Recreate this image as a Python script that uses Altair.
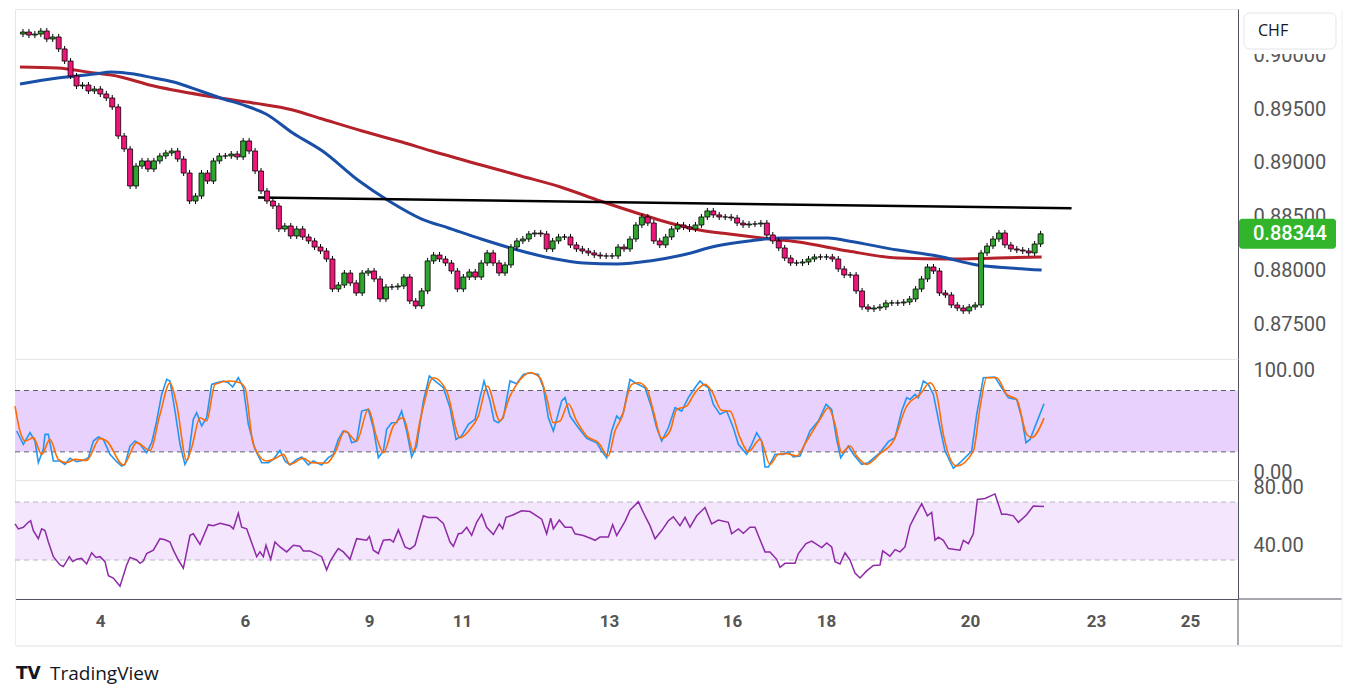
import altair as alt
import pandas as pd
import numpy as np

# ---------------- data ----------------
closes = [0.90213, 0.90185, 0.90194, 0.90222, 0.90148, 0.90167, 0.90056, 0.89944, 0.89806, 0.89713,
          0.89722, 0.89667, 0.89685, 0.89639, 0.89602, 0.89519, 0.89250, 0.89130, 0.88787, 0.88972,
          0.89019, 0.88944, 0.89019, 0.89065, 0.89093, 0.89111, 0.89037, 0.88907, 0.88648, 0.88694,
          0.88907, 0.88833, 0.89019, 0.89065, 0.89065, 0.89083, 0.89056, 0.89204, 0.89111, 0.88926,
          0.88741, 0.88648, 0.88602, 0.88389, 0.88417, 0.88324, 0.88389, 0.88315, 0.88278, 0.88222,
          0.88185, 0.88111, 0.87833, 0.87870, 0.87981, 0.87889, 0.87796, 0.87981, 0.88000, 0.87926,
          0.87741, 0.87852, 0.87852, 0.87861, 0.87944, 0.87722, 0.87676, 0.87815, 0.88093, 0.88148,
          0.88111, 0.88074, 0.88000, 0.87833, 0.87944, 0.87991, 0.87944, 0.88074, 0.88167, 0.88074,
          0.87981, 0.88056, 0.88222, 0.88278, 0.88296, 0.88343, 0.88352, 0.88343, 0.88204, 0.88278,
          0.88315, 0.88315, 0.88241, 0.88204, 0.88185, 0.88167, 0.88148, 0.88139, 0.88139, 0.88139,
          0.88222, 0.88204, 0.88296, 0.88426, 0.88500, 0.88444, 0.88278, 0.88241, 0.88315, 0.88389,
          0.88426, 0.88407, 0.88389, 0.88426, 0.88500, 0.88556, 0.88519, 0.88500, 0.88500, 0.88491,
          0.88444, 0.88426, 0.88435, 0.88435, 0.88444, 0.88333, 0.88278, 0.88213, 0.88120, 0.88074,
          0.88074, 0.88083, 0.88111, 0.88130, 0.88130, 0.88130, 0.88111, 0.88019, 0.87963, 0.87963,
          0.87815, 0.87667, 0.87648, 0.87657, 0.87667, 0.87704, 0.87704, 0.87704, 0.87713, 0.87741,
          0.87833, 0.87926, 0.88037, 0.88000, 0.87796, 0.87778, 0.87685, 0.87657, 0.87630, 0.87667,
          0.87685, 0.88167, 0.88231, 0.88296, 0.88352, 0.88241, 0.88204, 0.88194, 0.88185, 0.88167,
          0.88250, 0.88344]
first_open = 0.90194
wick = 0.00028
last_price = 0.88344

red_pos = [-0.5, 5.83, 12, 14.83, 22, 32, 38.67, 45.33, 50.33, 57, 63.67, 68.67, 77, 83.67, 90.33,
           97, 103.67, 108.67, 113.67, 118.67, 124.17, 130.33, 138.67, 147, 155.33, 163.67, 171.17]
red_val = [0.89889, 0.89880, 0.89833, 0.89815, 0.89713, 0.89611, 0.89556, 0.89491, 0.89407, 0.89296,
           0.89194, 0.89111, 0.88981, 0.88880, 0.88778, 0.88648, 0.88528, 0.88444, 0.88380, 0.88343,
           0.88306, 0.88269, 0.88185, 0.88120, 0.88111, 0.88120, 0.88130]

blue_pos = [-0.5, 5.83, 12, 14.83, 18.67, 22, 25.33, 29.83, 33.17, 37.5, 40.83, 45.33, 50.33, 56.5,
            61.5, 67, 71.5, 77, 82.5, 88.67, 94.17, 99.83, 105.33, 110.83, 116.5, 122, 127.5, 135.33,
            138.67, 147, 153.67, 160.33, 165.83, 171.17]
blue_val = [0.89731, 0.89787, 0.89824, 0.89843, 0.89824, 0.89787, 0.89750, 0.89667, 0.89602, 0.89528,
            0.89454, 0.89278, 0.89111, 0.88833, 0.88648, 0.88481, 0.88398, 0.88296, 0.88204, 0.88120,
            0.88074, 0.88065, 0.88093, 0.88148, 0.88231, 0.88278, 0.88306, 0.88306, 0.88278, 0.88194,
            0.88139, 0.88056, 0.88028, 0.88009]

trend_pos = [39.5, 176.2]
trend_val = [0.88681, 0.88581]

k_pos = [-0.22, 0.89, 2.0, 2.83, 3.39, 4.22, 4.5, 5.06, 5.89, 7.0,
         7.83, 8.67, 9.78, 10.89, 11.72, 12.56, 13.39, 14.22, 15.33, 16.44,
         17.28, 17.83, 18.67, 19.5, 20.33, 21.44, 22.28, 23.11, 23.94, 24.78,
         25.33, 26.17, 27.0, 27.83, 28.39, 29.22, 29.78, 30.61, 31.44, 32.28,
         33.11, 34.22, 35.06, 35.78, 36.72, 37.56, 38.39, 39.5, 40.61, 41.72,
         42.56, 43.67, 44.5, 45.33, 46.44, 47.28, 48.39, 49.22, 50.61, 51.72,
         52.56, 53.39, 54.22, 55.06, 55.61, 56.44, 57.28, 58.39, 59.22, 60.06,
         60.89, 61.44, 62.28, 63.11, 63.94, 64.78, 65.61, 66.44, 67.56, 68.56,
         69.5, 70.89, 72.0, 73.0, 73.94, 75.06, 76.17, 77.0, 77.67, 78.67,
         79.33, 80.06, 80.89, 82.0, 83.11, 84.22, 85.33, 86.72, 87.56, 88.39,
         89.22, 89.78, 90.61, 91.17, 92.0, 93.39, 94.78, 96.44, 97.28, 98.11,
         98.94, 99.78, 100.33, 100.89, 102.0, 102.83, 104.5, 105.61, 106.44, 107.28,
         108.39, 109.5, 110.61, 111.72, 112.83, 113.67, 114.22, 115.06, 115.89, 117.0,
         118.11, 119.22, 120.06, 121.44, 122.28, 123.11, 123.94, 124.5, 125.06, 126.17,
         127.56, 128.39, 129.22, 130.33, 132.0, 133.39, 134.67, 135.61, 136.44, 137.11,
         138.39, 139.22, 140.61, 141.72, 143.67, 145.06, 146.17, 147.28, 148.11, 148.67,
         149.5, 150.06, 150.89, 151.72, 152.56, 153.67, 154.5, 155.89, 157.0, 158.94,
         159.78, 160.89, 162.83, 163.94, 165.06, 166.44, 167.28, 168.0, 168.67, 171.0]
k_val = [40.4, 27.4, 38.8, 30.6, 9.4, 22.5, 37.1, 37.1, 11.1, 11.1,
         7.8, 13.7, 10.4, 11.7, 14.3, 30.6, 34.5, 32.2, 17.6, 10.4,
         6.2, 7.8, 25.7, 30.6, 27.4, 19.2, 29.0, 50.2, 76.2, 90.9,
         89.3, 59.9, 27.4, 7.8, 14.3, 51.8, 58.3, 45.3, 53.4, 86.0,
         87.6, 89.3, 87.6, 83.4, 92.5, 82.7, 46.9, 22.5, 9.4, 9.4,
         12.7, 21.5, 11.1, 7.2, 12.7, 15.0, 7.2, 11.1, 7.2, 14.3,
         17.6, 32.2, 40.4, 38.8, 29.0, 30.6, 59.9, 61.6, 43.6, 14.3,
         20.8, 42.0, 48.5, 48.5, 59.9, 40.4, 15.0, 25.7, 69.7, 94.1,
         89.3, 82.7, 63.2, 32.2, 35.5, 46.9, 51.8, 73.0, 89.3, 69.7,
         50.8, 48.5, 53.4, 89.3, 86.6, 95.8, 97.4, 95.8, 82.7, 53.4,
         40.4, 51.8, 69.7, 73.0, 55.0, 43.6, 33.2, 29.0, 20.8, 14.3,
         40.4, 55.0, 51.8, 58.3, 90.9, 87.6, 82.7, 63.2, 43.6, 30.6,
         43.6, 63.2, 59.9, 73.0, 82.7, 89.3, 86.0, 82.7, 66.4, 56.7,
         59.9, 43.6, 27.4, 17.6, 27.4, 38.8, 30.6, 5.2, 5.2, 17.6,
         17.6, 20.2, 15.0, 16.0, 40.4, 50.2, 66.4, 61.6, 32.2, 14.3,
         25.7, 17.6, 7.8, 9.4, 19.2, 30.0, 33.9, 59.9, 73.0, 71.3,
         76.2, 73.0, 89.3, 86.0, 76.2, 43.6, 20.8, 3.9, 9.4, 20.8,
         56.7, 92.5, 93.2, 82.7, 73.0, 71.3, 53.4, 29.0, 32.2, 67.0]

d_pos = [-0.5, 0.33, 1.17, 2.56, 3.94, 5.33, 6.72, 8.11, 9.5, 11.44,
         13.67, 14.78, 17.56, 19.78, 22.0, 23.67, 25.33, 26.44, 28.11, 28.94,
         30.33, 31.44, 32.83, 35.33, 37.0, 37.83, 39.22, 41.44, 43.11, 44.22,
         45.33, 47.56, 48.94, 51.44, 52.83, 54.5, 56.44, 58.39, 59.78, 60.89,
         62.56, 64.22, 65.89, 67.0, 69.22, 71.44, 73.67, 75.33, 76.72, 78.22,
         80.33, 82.0, 83.11, 85.33, 87.0, 88.11, 89.22, 90.33, 91.72, 93.11,
         94.78, 96.72, 98.39, 99.5, 100.61, 102.28, 103.39, 104.78, 105.89, 107.28,
         108.67, 109.78, 111.44, 112.83, 114.5, 115.61, 117.28, 118.67, 120.33, 121.72,
         123.67, 125.33, 126.72, 128.11, 129.78, 131.44, 133.67, 135.06, 136.17, 137.28,
         138.67, 139.78, 141.44, 143.67, 145.89, 148.11, 150.33, 152.0, 153.11, 154.22,
         156.44, 159.22, 160.33, 161.44, 163.11, 164.78, 166.44, 168.11, 168.94, 171.0]
d_val = [64.8, 40.4, 30.6, 33.9, 17.6, 32.2, 12.7, 9.4, 12.7, 11.7,
         33.2, 30.6, 7.2, 29.0, 21.5, 56.7, 87.6, 66.4, 11.7, 24.1,
         53.4, 50.2, 86.0, 89.3, 87.6, 82.7, 27.4, 11.1, 14.3, 17.6,
         7.8, 13.7, 9.4, 9.1, 19.2, 40.4, 30.6, 61.6, 33.9, 19.2,
         45.3, 53.4, 20.8, 50.2, 92.5, 79.5, 33.9, 42.0, 55.0, 84.4,
         50.2, 74.6, 86.0, 97.4, 92.5, 73.0, 48.5, 50.2, 67.1, 50.2,
         35.5, 29.0, 16.0, 40.4, 53.4, 86.0, 87.6, 82.1, 59.9, 33.2,
         40.4, 61.6, 64.8, 77.9, 86.0, 79.5, 60.6, 59.9, 33.9, 20.2,
         32.2, 7.8, 17.6, 18.2, 16.0, 30.6, 51.8, 63.2, 46.9, 19.2,
         25.7, 16.0, 7.8, 18.2, 30.6, 64.8, 76.2, 87.6, 76.2, 37.1,
         6.2, 20.8, 63.2, 92.5, 92.5, 76.2, 71.3, 37.1, 33.9, 53.0]

rsi_pos = [-0.5, 0.06, 0.89, 1.72, 2.11, 2.56, 3.39, 3.94, 4.5, 5.06,
           5.89, 7.0, 7.56, 8.56, 9.11, 9.78, 10.61, 11.44, 12.28, 13.0,
           13.67, 14.5, 15.06, 15.89, 17.0, 18.11, 18.67, 19.78, 20.33, 20.89,
           21.44, 22.56, 23.67, 24.5, 25.33, 25.89, 26.72, 27.56, 28.67, 29.22,
           30.33, 31.72, 32.56, 33.67, 35.33, 35.89, 36.72, 37.28, 38.11, 39.78,
           40.33, 40.89, 41.33, 42.11, 42.83, 43.67, 44.78, 45.89, 47.0, 47.56,
           48.67, 49.78, 50.61, 51.44, 52.0, 52.83, 53.39, 54.22, 55.33, 56.44,
           58.11, 58.56, 59.22, 60.06, 60.89, 62.0, 62.56, 63.39, 64.5, 65.33,
           66.17, 66.72, 67.56, 68.39, 69.78, 70.89, 72.0, 72.56, 73.39, 73.94,
           74.78, 75.61, 76.44, 77.28, 78.11, 79.22, 80.22, 80.78, 81.33, 82.56,
           83.94, 85.33, 87.28, 88.11, 88.78, 89.22, 90.22, 91.17, 92.28, 92.83,
           94.22, 95.61, 96.17, 97.0, 98.39, 99.11, 99.78, 101.17, 102.0, 103.39,
           104.22, 105.33, 106.17, 107.28, 108.39, 109.22, 110.33, 111.17, 112.0, 113.11,
           114.5, 115.61, 116.72, 118.39, 118.94, 120.06, 120.89, 122.0, 122.83, 124.5,
           125.33, 126.44, 127.0, 127.83, 128.67, 129.5, 130.06, 131.33, 132.28, 133.94,
           134.78, 135.61, 136.17, 137.0, 137.83, 138.67, 139.5, 140.33, 141.44, 142.56,
           143.67, 144.11, 145.33, 146.17, 147.0, 147.83, 148.67, 149.5, 150.61, 151.56,
           152.28, 152.83, 153.39, 154.22, 155.06, 157.0, 157.56, 158.39, 159.22, 159.89,
           161.17, 162.83, 163.94, 164.78, 165.89, 166.72, 168.11, 169.22, 171.0]
rsi_val = [54.9, 51.5, 52.6, 56.0, 57.1, 50.3, 44.7, 51.5, 50.3, 42.4,
           32.3, 26.6, 25.5, 32.3, 28.9, 30.5, 31.1, 27.3, 35.0, 31.8,
           32.3, 28.9, 19.2, 17.6, 11.9, 26.6, 31.8, 30.0, 27.7, 29.3,
           34.5, 36.8, 44.7, 44.0, 42.4, 36.8, 30.0, 24.4, 47.0, 48.1,
           40.8, 54.4, 53.7, 55.3, 53.7, 51.5, 62.3, 52.6, 51.5, 32.3,
           35.6, 32.3, 40.2, 30.5, 42.4, 39.0, 35.6, 40.2, 39.5, 36.3,
           36.3, 34.1, 32.3, 23.2, 28.9, 34.5, 37.9, 35.6, 30.5, 44.7,
           43.6, 46.3, 36.8, 34.5, 43.6, 44.2, 42.4, 50.8, 39.0, 37.5,
           40.2, 48.5, 60.5, 59.4, 59.4, 55.3, 42.4, 39.5, 48.1, 48.5,
           52.6, 47.0, 56.0, 61.6, 52.6, 47.6, 54.9, 51.5, 59.4, 61.2,
           63.9, 63.4, 58.2, 48.1, 58.9, 51.5, 57.6, 52.6, 52.6, 48.1,
           46.9, 44.7, 43.6, 45.8, 45.8, 54.4, 46.9, 56.7, 64.4, 70.2,
           62.8, 53.7, 44.7, 50.3, 57.1, 59.8, 53.7, 59.4, 52.6, 60.5,
           66.2, 54.9, 57.6, 56.0, 48.1, 51.5, 48.5, 52.6, 52.6, 35.6,
           35.6, 30.5, 25.0, 27.7, 27.7, 27.7, 34.5, 41.3, 43.1, 38.6,
           41.8, 39.0, 28.9, 27.3, 35.0, 30.0, 21.0, 17.6, 22.5, 26.2,
           26.6, 36.3, 32.7, 37.2, 35.6, 39.0, 53.7, 60.5, 68.9, 60.5,
           62.8, 43.6, 45.8, 43.6, 37.9, 36.8, 43.6, 41.3, 48.1, 71.8,
           72.5, 75.6, 61.6, 61.6, 60.5, 56.0, 61.2, 67.3, 67.0]

day_pos = [13.67, 37.83, 58.5, 74.0, 98.5, 119.0, 134.67, 158.67, 179.67, 195.33]
day_lab = ["4", "6", "9", "11", "13", "16", "18", "20", "23", "25"]

price_ticks = [0.875, 0.880, 0.885, 0.890, 0.895, 0.900]
stoch_ticks = [0, 100]
rsi_ticks = [40, 80]
stoch_bands = [20, 80]
rsi_bands = [30, 70]

# ---------------- layout / style ----------------
W = 1223
H1, H2, H3 = 350, 121, 119
GREEN, PINK = "#2ea52c", "#f0157a"
RED_MA, BLUE_MA = "#b5212a", "#1a4fa8"
AXC = "#50535e"
LBL = "#555555"
FONT = "Roboto"

xs = alt.Scale(domain=[-0.5, 203.33], nice=False, zero=False)
ps = alt.Scale(domain=[0.87185, 0.90426], nice=False, zero=False)
ss = alt.Scale(domain=[-7.5, 110.8], nice=False, zero=False)
rs = alt.Scale(domain=[3.1, 85.2], nice=False, zero=False)

yax_common = dict(orient="right", ticks=False, tickSize=0, grid=False, domainColor=AXC,
                  domainWidth=1, labelPadding=15, labelAlign="left", labelFont=FONT,
                  labelFontSize=20, labelColor=LBL, title=None, labelOverlap=False)
price_axis = alt.Axis(values=price_ticks, format=".5f", **yax_common)
stoch_axis = alt.Axis(values=stoch_ticks, format=".2f", **yax_common)
rsi_axis = alt.Axis(values=rsi_ticks, format=".2f", **yax_common)

label_expr = "''"
for p, l in reversed(list(zip(day_pos, day_lab))):
    label_expr = f"abs(datum.value - {p}) < 0.3 ? '{l}' : ({label_expr})"
x_axis = alt.Axis(values=day_pos, labelExpr=label_expr, ticks=False, tickSize=0, grid=False,
                  domainColor=AXC, domainWidth=1, labelPadding=14, labelFont=FONT,
                  labelFontSize=17, labelFontWeight="bold", labelColor=LBL, title=None,
                  labelFlush=False, labelOverlap=False)


def PX(field, ax=None):
    return alt.X(field, scale=xs, axis=ax)


opens = [first_open] + closes[:-1]
cd = pd.DataFrame({"bar": np.arange(len(closes)), "open": opens, "close": closes})
cd["high"] = cd[["open", "close"]].max(axis=1) + wick
cd["low"] = cd[["open", "close"]].min(axis=1) - wick
cd["dir"] = np.where(cd["close"] >= cd["open"], "up", "down")

red_df = pd.DataFrame({"pos": red_pos, "val": red_val})
blue_df = pd.DataFrame({"pos": blue_pos, "val": blue_val})
trend_df = pd.DataFrame({"pos": trend_pos, "val": trend_val})
one = pd.DataFrame({"price": [last_price], "lab": [f"{last_price:.5f}"]})


def PY(field):
    return alt.Y(field, scale=ps, axis=price_axis)


wicks = alt.Chart(cd).mark_rule(color="#000000", strokeWidth=1).encode(
    x=PX("bar:Q"), y=PY("low:Q"), y2="high:Q")
bodies = alt.Chart(cd).mark_bar(width=5, stroke="#000000", strokeWidth=0.8).encode(
    x=PX("bar:Q"), y=PY("open:Q"), y2="close:Q",
    color=alt.Color("dir:N", scale=alt.Scale(domain=["up", "down"], range=[GREEN, PINK]), legend=None),
)
red_line = alt.Chart(red_df).mark_line(color=RED_MA, strokeWidth=3, interpolate="monotone").encode(
    x=PX("pos:Q"), y=PY("val:Q"))
blue_line = alt.Chart(blue_df).mark_line(color=BLUE_MA, strokeWidth=3, interpolate="monotone").encode(
    x=PX("pos:Q"), y=PY("val:Q"))
trend_line = alt.Chart(trend_df).mark_line(color="#000000", strokeWidth=2.5).encode(
    x=PX("pos:Q"), y=PY("val:Q"))

lp_box = alt.Chart(one).mark_rect(color="#33b52b", cornerRadius=3, yOffset=-15, y2Offset=15).encode(
    x=alt.value(W + 1), x2=alt.value(W + 98), y=PY("price:Q"), y2="price:Q")
lp_txt = alt.Chart(one).mark_text(color="#ffffff", font=FONT, fontSize=20, fontWeight=500,
                                  align="left", baseline="middle").encode(
    x=alt.value(W + 15), y=PY("price:Q"), text="lab:N")

chf = pd.DataFrame({"t": ["CHF"]})
chf_mask = alt.Chart(chf).mark_rect(fill="#ffffff").encode(
    x=alt.value(W + 4), x2=alt.value(W + 100), y=alt.value(38), y2=alt.value(45))
chf_box = alt.Chart(chf).mark_rect(fill="#ffffff", stroke="#e3e5ea", strokeWidth=1, cornerRadius=6).encode(
    x=alt.value(W + 6), x2=alt.value(W + 98), y=alt.value(4), y2=alt.value(40))
chf_txt = alt.Chart(chf).mark_text(font="Open Sans", fontSize=16, color="#131722",
                                   align="left", baseline="middle").encode(
    x=alt.value(W + 20), y=alt.value(22), text="t:N")

price = alt.layer(red_line, blue_line, trend_line, wicks, bodies, lp_box, lp_txt,
                  chf_mask, chf_box, chf_txt).properties(width=W, height=H1)

# ---------------- stochastic ----------------
k_df = pd.DataFrame({"pos": k_pos, "val": k_val})
d_df = pd.DataFrame({"pos": d_pos, "val": d_val})
sb = pd.DataFrame({"lo": [stoch_bands[0]], "hi": [stoch_bands[1]]})
sl = pd.DataFrame({"lvl": stoch_bands})


def SY(field):
    return alt.Y(field, scale=ss, axis=stoch_axis)


s_band = alt.Chart(sb).mark_rect(color="#e8d1fc").encode(
    x=alt.value(0), x2=alt.value(W), y=SY("hi:Q"), y2="lo:Q")
s_rules = alt.Chart(sl).mark_rule(color="#5d5f6b", strokeDash=[5, 4], strokeWidth=1).encode(
    x=alt.value(0), x2=alt.value(W), y=SY("lvl:Q"))
k_line = alt.Chart(k_df).mark_line(color="#2196f3", strokeWidth=1.6).encode(
    x=PX("pos:Q"), y=SY("val:Q"))
d_line = alt.Chart(d_df).mark_line(color="#ff6d00", strokeWidth=1.6, interpolate="monotone").encode(
    x=PX("pos:Q"), y=SY("val:Q"))
stoch = alt.layer(s_band, s_rules, k_line, d_line).properties(width=W, height=H2)

# ---------------- RSI ----------------
r_df = pd.DataFrame({"pos": rsi_pos, "val": rsi_val})
rb = pd.DataFrame({"lo": [rsi_bands[0]], "hi": [rsi_bands[1]]})
rl = pd.DataFrame({"lvl": rsi_bands})


def RY(field):
    return alt.Y(field, scale=rs, axis=rsi_axis)


r_band = alt.Chart(rb).mark_rect(color="#f3e6fd").encode(
    x=alt.value(0), x2=alt.value(W), y=RY("hi:Q"), y2="lo:Q")
r_rules = alt.Chart(rl).mark_rule(color="#b4b6be", strokeDash=[5, 4], strokeWidth=1).encode(
    x=alt.value(0), x2=alt.value(W), y=RY("lvl:Q"))
r_line = alt.Chart(r_df).mark_line(color="#8e2aa6", strokeWidth=1.5).encode(
    x=PX("pos:Q", x_axis), y=RY("val:Q"))

deco = pd.DataFrame({"t": ["TradingView"], "logo": ["TV"]})
ext_v = alt.Chart(deco).mark_rule(color=AXC, strokeWidth=1).encode(
    x=alt.value(W), y=alt.value(H3), y2=alt.value(H3 + 47))
ext_h = alt.Chart(deco).mark_rule(color=AXC, strokeWidth=1).encode(
    x=alt.value(W), x2=alt.value(W + 104), y=alt.value(H3))
card_b = alt.Chart(deco).mark_rule(color="#eeeff2", strokeWidth=2).encode(
    x=alt.value(1), x2=alt.value(W + 104), y=alt.value(H3 + 47))
card_r = alt.Chart(deco).mark_rule(color="#eeeff2", strokeWidth=1).encode(
    x=alt.value(W + 104), y=alt.value(-(H1 + H2) + 1), y2=alt.value(H3 + 47))
card_l = alt.Chart(deco).mark_rule(color="#eeeff2", strokeWidth=1).encode(
    x=alt.value(0.5), y=alt.value(H3), y2=alt.value(H3 + 47))
logo = alt.Chart(deco).mark_text(font="DejaVu Sans", fontSize=17, fontWeight=900, color="#131722",
                                 align="left", baseline="middle").encode(
    x=alt.value(1), y=alt.value(194), text="logo:N")
brand = alt.Chart(deco).mark_text(font="Open Sans", fontSize=19, color="#131722",
                                  align="left", baseline="middle").encode(
    x=alt.value(35), y=alt.value(194), text="t:N")

rsi = alt.layer(r_band, r_rules, r_line, ext_v, ext_h, card_b, card_r, card_l, logo, brand
                ).properties(width=W, height=H3)

chart = alt.vconcat(price, stoch, rsi, spacing=0, bounds="flush").properties(
    padding={"left": 3, "top": 0, "right": 0, "bottom": 0},
    background="#ffffff",
).configure_view(stroke="#e6e7ec", strokeWidth=1)

chart.save("out.html", embed_options={"renderer": "svg", "actions": False})
